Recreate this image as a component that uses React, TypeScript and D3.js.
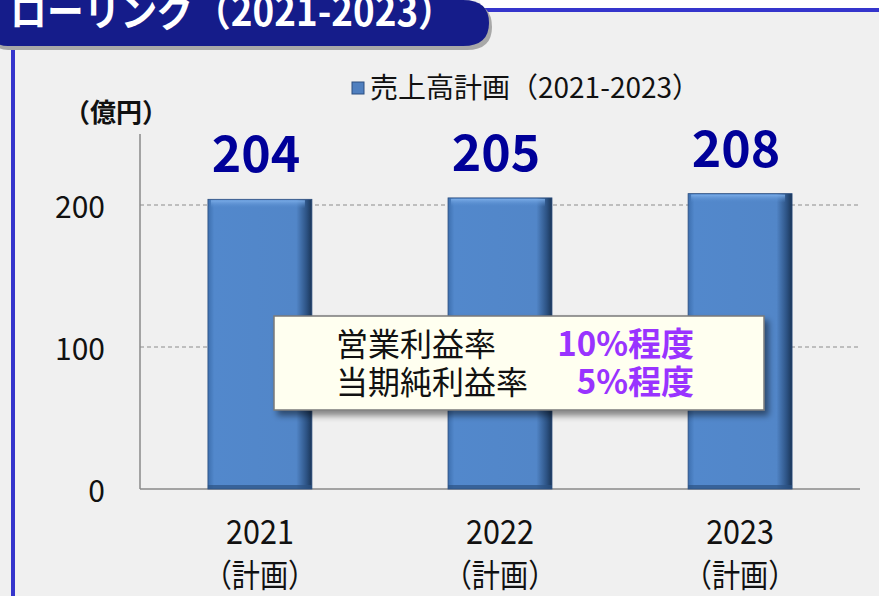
import React from "react";
import * as d3 from "d3";

const categories = ["2021", "2022", "2023"];
const sales = [204, 205, 208];
const yTicks = [0, 100, 200];
const legendLabel = "売上高計画（2021-2023）";
const titleText = "ローリング（2021-2023）";
const unitLabel = "（億円）";
const subLabel = "（計画）";
const noteLabels = ["営業利益率", "当期純利益率"];
const noteValues = ["10%程度", "5%程度"];

const W = 879;
const H = 596;
const FONT = "'Noto Sans CJK JP', 'Noto Sans', sans-serif";

const App = () => {
    // scales
    const x = d3.scaleBand().domain(categories).range([140, 860]).paddingInner(0.567).paddingOuter(0.283);
    const y = d3.scaleLinear().domain([0, 250]).range([489, 134]);

    return (
        <svg width={W} height={H} style={{ position: "absolute", left: 0, top: 0, background: "#f0f0f0" }}>
            <defs>
                <linearGradient id="barH" x1="0" x2="1" y1="0" y2="0">
                    <stop offset="0" stopColor="#3d6fae" />
                    <stop offset="0.06" stopColor="#5288cc" />
                    <stop offset="0.85" stopColor="#5286c8" />
                    <stop offset="0.95" stopColor="#2c5283" />
                    <stop offset="1" stopColor="#1a3557" />
                </linearGradient>
                <linearGradient id="barTop" x1="0" x2="0" y1="0" y2="1">
                    <stop offset="0" stopColor="#7fb0ea" stopOpacity={0.9} />
                    <stop offset="1" stopColor="#5288cc" stopOpacity={0} />
                </linearGradient>
                <filter id="shadow" x="-10%" y="-10%" width="130%" height="140%">
                    <feGaussianBlur in="SourceAlpha" stdDeviation="3" />
                    <feOffset dx="4" dy="5" result="b" />
                    <feComponentTransfer><feFuncA type="linear" slope="0.45" /></feComponentTransfer>
                    <feMerge><feMergeNode /><feMergeNode in="SourceGraphic" /></feMerge>
                </filter>
            </defs>

            <rect x={0} y={0} width={W} height={H} fill="#f0f0f0" />

            {/* header strip */}
            <rect x={480} y={0} width={W - 480} height={8} fill="#ffffff" />
            <rect x={480} y={8} width={W - 480} height={4} fill="#3535cc" />
            <rect x={11} y={40} width={4} height={H - 40} fill="#3535cc" />

            {/* title banner */}
            <path d="M-5,3 H467 Q492,3 492,27 Q492,50 467,50 H8 Q-5,50 -5,40 Z" fill="#a8a8a8" />
            <path d="M-5,0 H463 Q489,0 489,23 Q489,46 463,46 H8 Q-5,46 -5,37 Z" fill="#151c8a" />
            <text x={11} y={26} fill="#ffffff" fontFamily={FONT} fontWeight="bold" fontSize={40}
                transform="scale(0.92,1)">{titleText}</text>

            {/* legend */}
            <rect x={352} y={82} width={12} height={12} fill="#4f7fbf" stroke="#2c4f80" strokeWidth={1} />
            <text x={370} y={98} fontFamily={FONT} fontSize={28} fill="#111">{legendLabel}</text>

            <text x={64} y={122} fontFamily={FONT} fontSize={26} fontWeight="bold" fill="#111">{unitLabel}</text>

            {/* gridlines */}
            {yTicks.filter((t) => t > 0).map((t) => (
                <line key={t} x1={140} x2={858} y1={y(t)} y2={y(t)} stroke="#8c8c8c" strokeDasharray="4,3" strokeWidth={1.2} />
            ))}

            {/* axes */}
            <line x1={140} x2={140} y1={134} y2={489} stroke="#8a8a8a" strokeWidth={1.5} />
            <line x1={140} x2={860} y1={489} y2={489} stroke="#8a8a8a" strokeWidth={1.5} />
            {yTicks.map((t) => (
                <text key={t} x={105} y={y(t) + 2} dy="0.35em" textAnchor="end" fontFamily={FONT} fontSize={30} fill="#111">{t}</text>
            ))}

            {/* bars */}
            {categories.map((c, i) => {
                const bx = x(c);
                const bw = x.bandwidth();
                const by = y(sales[i]);
                const bh = y(0) - by;
                const cx = bx + bw / 2;
                return (
                    <g key={c}>
                        <rect x={bx} y={by} width={bw} height={bh} fill="url(#barH)" stroke="#2b4d7e" strokeWidth={0.8} />
                        <rect x={bx + 3} y={by + 1} width={bw - 10} height={8} fill="url(#barTop)" />
                        <rect x={bx} y={y(0) - 4} width={bw} height={4} fill="#2c5283" opacity={0.7} />
                        <text x={cx - 4} y={by - 27} textAnchor="middle" fontFamily={FONT} fontWeight="bold" fontSize={50} fill="#000099">{sales[i]}</text>
                        <g transform={`translate(${cx},0) scale(0.9,1)`}>
                            <text x={0} y={544} textAnchor="middle" fontFamily={FONT} fontSize={34} fill="#111">{c}</text>
                        </g>
                        <g transform={`translate(${cx},0) scale(0.88,1)`}>
                            <text x={0} y={587} textAnchor="middle" fontFamily={FONT} fontSize={32} fill="#111">{subLabel}</text>
                        </g>
                    </g>
                );
            })}

            {/* note box */}
            <g filter="url(#shadow)">
                <rect x={274} y={316} width={490} height={94} fill="#fffff0" stroke="#7a7a7a" strokeWidth={1.5} />
            </g>
            {noteLabels.map((l, i) => (
                <g key={l}>
                    <text x={336} y={356 + i * 38} fontFamily={FONT} fontSize={32} fill="#111">{l}</text>
                    <text x={694} y={356 + i * 38} textAnchor="end" fontFamily={FONT} fontWeight="bold" fontSize={33} fill="#9933ff">{noteValues[i]}</text>
                </g>
            ))}
        </svg>
    );
};

export default App;
